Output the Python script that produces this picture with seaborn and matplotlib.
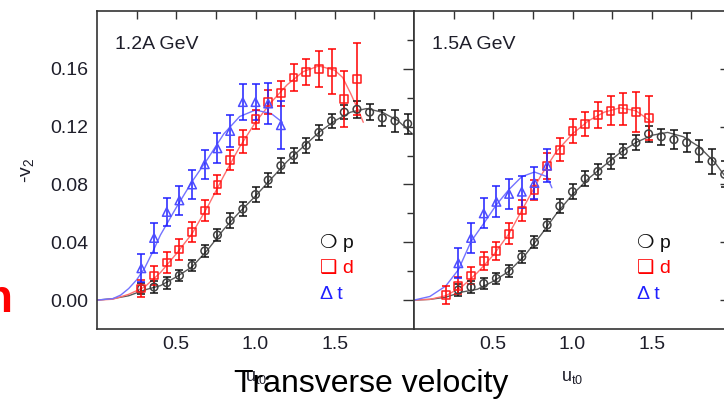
import matplotlib
matplotlib.use("Agg")
import matplotlib.pyplot as plt
from matplotlib.ticker import FormatStrFormatter
import seaborn as sns

sns.set_theme(style="white")
plt.rcParams['font.family'] = ['Liberation Sans', 'DejaVu Sans']
plt.rcParams['mathtext.default'] = 'regular'

# ---------------- 1.2A GeV ----------------
p12_x = [0.28, 0.36, 0.44, 0.52, 0.60, 0.68, 0.76, 0.84, 0.92, 1.00, 1.08,
         1.16, 1.24, 1.32, 1.40, 1.48, 1.56, 1.64, 1.72, 1.80, 1.88, 1.96]
p12_y = [0.008, 0.009, 0.012, 0.017, 0.024, 0.034, 0.045, 0.055, 0.063, 0.073, 0.083,
         0.093, 0.100, 0.107, 0.116, 0.124, 0.130, 0.132, 0.130, 0.126, 0.124, 0.122]
p12_e = [0.004, 0.004, 0.004, 0.004, 0.004, 0.004, 0.004, 0.005, 0.005, 0.005, 0.005,
         0.005, 0.005, 0.005, 0.005, 0.005, 0.005, 0.006, 0.0055, 0.0055, 0.0075, 0.007]

d12_x = [0.28, 0.36, 0.44, 0.52, 0.60, 0.68, 0.76, 0.84, 0.92, 1.00, 1.08,
         1.16, 1.24, 1.32, 1.40, 1.48, 1.56, 1.64]
d12_y = [0.008, 0.017, 0.026, 0.035, 0.047, 0.062, 0.080, 0.097, 0.110, 0.125, 0.137,
         0.143, 0.154, 0.158, 0.160, 0.158, 0.139, 0.153]
d12_e = [0.006, 0.0064, 0.007, 0.0072, 0.007, 0.0073, 0.0066, 0.007, 0.0079, 0.0067, 0.0081,
         0.0086, 0.0092, 0.009, 0.0125, 0.0154, 0.0194, 0.025]

t12_x = [0.28, 0.36, 0.44, 0.52, 0.60, 0.68, 0.76, 0.84, 0.92, 1.00, 1.08, 1.16]
t12_y = [0.022, 0.043, 0.061, 0.069, 0.080, 0.094, 0.105, 0.117, 0.137, 0.137, 0.136, 0.121]
t12_e = [0.0096, 0.0102, 0.0099, 0.010, 0.0102, 0.0099, 0.0104, 0.0112, 0.0124, 0.0124, 0.0143, 0.0168]

# fit curves
pf12_x = [0, 0.1, 0.2, 0.3, 0.4, 0.5, 0.6, 0.7, 0.8, 0.9, 1.0, 1.1, 1.2, 1.3, 1.4, 1.5,
          1.6, 1.7, 1.8, 1.9, 2.0]
pf12_y = [0, 0.001, 0.003, 0.007, 0.010, 0.016, 0.023, 0.035, 0.049, 0.061, 0.072, 0.084,
          0.096, 0.106, 0.116, 0.124, 0.130, 0.1325, 0.130, 0.124, 0.114]
df12_x = [0, 0.1, 0.2, 0.3, 0.4, 0.5, 0.6, 0.7, 0.8, 0.9, 1.0, 1.1, 1.2, 1.3, 1.4, 1.5,
          1.55, 1.6, 1.65, 1.68]
df12_y = [0, 0.0006, 0.004, 0.009, 0.019, 0.032, 0.046, 0.065, 0.086, 0.106, 0.123, 0.137,
          0.149, 0.158, 0.162, 0.159, 0.154, 0.143, 0.131, 0.123]
tf12_x = [0, 0.1, 0.15, 0.2, 0.25, 0.3, 0.35, 0.4, 0.5, 0.6, 0.7, 0.8, 0.9, 1.0, 1.1, 1.17]
tf12_y = [0, 0.001, 0.0035, 0.008, 0.014, 0.022, 0.033, 0.045, 0.064, 0.082, 0.098, 0.115,
          0.127, 0.1315, 0.129, 0.123]

# ---------------- 1.5A GeV ----------------
p15_x = [0.28, 0.36, 0.44, 0.52, 0.60, 0.68, 0.76, 0.84, 0.92, 1.00, 1.08,
         1.16, 1.24, 1.32, 1.40, 1.48, 1.56, 1.64, 1.72, 1.80, 1.88, 1.96]
p15_y = [0.007, 0.009, 0.0115, 0.015, 0.020, 0.030, 0.040, 0.052, 0.065, 0.075, 0.084,
         0.089, 0.096, 0.103, 0.109, 0.115, 0.113, 0.111, 0.109, 0.103, 0.096, 0.087]
p15_e = [0.004, 0.004, 0.004, 0.004, 0.004, 0.004, 0.004, 0.004, 0.005, 0.005, 0.005,
         0.005, 0.005, 0.005, 0.0055, 0.0055, 0.0055, 0.0064, 0.0064, 0.0078, 0.0085, 0.009]

d15_x = [0.20, 0.28, 0.36, 0.44, 0.52, 0.60, 0.68, 0.76, 0.84, 0.92, 1.00,
         1.08, 1.16, 1.24, 1.32, 1.40, 1.48]
d15_y = [0.0035, 0.010, 0.017, 0.027, 0.034, 0.046, 0.062, 0.076, 0.093, 0.104, 0.117,
         0.122, 0.128, 0.131, 0.132, 0.130, 0.126]
d15_e = [0.006, 0.006, 0.006, 0.0065, 0.0065, 0.007, 0.007, 0.007, 0.009, 0.008, 0.0081,
         0.0084, 0.0088, 0.0099, 0.011, 0.014, 0.015]

t15_x = [0.28, 0.36, 0.44, 0.52, 0.60, 0.68, 0.76, 0.84]
t15_y = [0.0255, 0.043, 0.060, 0.068, 0.0735, 0.075, 0.081, 0.093]
t15_e = [0.0102, 0.0104, 0.0104, 0.0106, 0.0102, 0.011, 0.0114, 0.0116]

pf15_x = [0, 0.1, 0.2, 0.3, 0.4, 0.5, 0.6, 0.7, 0.8, 0.9, 1.0, 1.1, 1.2, 1.3, 1.4, 1.5,
          1.6, 1.7, 1.8, 1.9, 2.0]
pf15_y = [0, 0.0005, 0.002, 0.0055, 0.0075, 0.013, 0.020, 0.031, 0.045, 0.060, 0.073,
          0.084, 0.093, 0.102, 0.109, 0.114, 0.116, 0.113, 0.106, 0.095, 0.080]
df15_x = [0, 0.1, 0.2, 0.3, 0.4, 0.5, 0.6, 0.7, 0.8, 0.9, 1.0, 1.1, 1.2, 1.3, 1.4, 1.49]
df15_y = [0, 0.0005, 0.003, 0.009, 0.019, 0.031, 0.046, 0.066, 0.086, 0.103, 0.115, 0.124,
          0.130, 0.133, 0.131, 0.124]
tf15_x = [0, 0.1, 0.2, 0.28, 0.36, 0.44, 0.52, 0.6, 0.68, 0.76, 0.84, 0.87]
tf15_y = [0, 0.0025, 0.0097, 0.021, 0.0406, 0.053, 0.066, 0.0766, 0.0854, 0.0886, 0.0854, 0.0777]

panel_labels = ["1.2A GeV", "1.5A GeV"]
legend_labels = ["\u274d p", "\u2751 d", "\u0394 t"]
y_ticks = [0.00, 0.04, 0.08, 0.12, 0.16]
x_ticks = [0.5, 1.0, 1.5]

# ---------------- styles ----------------
C_BAR = {'p': '#111111', 'd': '#ff0000', 't': '#1f1fff'}
C_MK = {'p': '#404040', 'd': '#ff1a1a', 't': '#4d4dff'}
C_FIT = {'p': '#5a5a5a', 'd': '#ff7070', 't': '#7373ff'}
MARK = {'p': 'o', 'd': 's', 't': '^'}
MSIZE = {'p': 30, 'd': 32, 't': 38}
TXT = '#1e1e2a'

W, H = 724, 404
fig = plt.figure(figsize=(W / 100, H / 100), dpi=100)
ax_w = 317 / W
ax_h = 318 / H
ax1 = fig.add_axes([97 / W, (H - 329) / H, ax_w, ax_h])
ax2 = fig.add_axes([414 / W, (H - 329) / H, ax_w, ax_h])

panels = [
    (ax1, [('p', p12_x, p12_y, p12_e, pf12_x, pf12_y),
           ('d', d12_x, d12_y, d12_e, df12_x, df12_y),
           ('t', t12_x, t12_y, t12_e, tf12_x, tf12_y)]),
    (ax2, [('p', p15_x, p15_y, p15_e, pf15_x, pf15_y),
           ('d', d15_x, d15_y, d15_e, df15_x, df15_y),
           ('t', t15_x, t15_y, t15_e, tf15_x, tf15_y)]),
]

for i, (ax, series) in enumerate(panels):
    for key, xs, ys, es, fx, fy in series:
        sns.lineplot(x=fx, y=fy, ax=ax, color=C_FIT[key], lw=1.0, sort=False,
                     estimator=None, zorder=2)
        ax.errorbar(xs, ys, yerr=es, fmt='none', ecolor=C_BAR[key], elinewidth=1.1,
                    capsize=3.2, capthick=1.1, zorder=3)
        sns.scatterplot(x=xs, y=ys, ax=ax, marker=MARK[key], s=MSIZE[key],
                        facecolor='none', edgecolor=C_MK[key], linewidth=1.1, zorder=4)
    ax.set_xlim(0, 2.0)
    ax.set_ylim(-0.02, 0.20)
    ax.set_xticks(x_ticks)
    ax.set_xticks([0.25, 0.75, 1.25, 1.75], minor=True)
    ax.set_yticks(y_ticks)
    ax.set_yticks([0.02, 0.06, 0.10, 0.14, 0.18], minor=True)
    ax.xaxis.set_major_formatter(FormatStrFormatter('%.1f'))
    ax.yaxis.set_major_formatter(FormatStrFormatter('%.2f'))
    ax.tick_params(which='both', direction='in', top=True, right=True,
                   color='#333333', width=1.0, labelsize=14, labelcolor=TXT)
    ax.tick_params(axis='x', which='both', length=5.5, pad=5)
    ax.tick_params(axis='y', which='major', length=8, pad=6.5)
    ax.tick_params(axis='y', which='minor', length=4.7)
    for s in ax.spines.values():
        s.set_color('#333333')
        s.set_linewidth(1.2)
    ax.set_xlabel('')
    ax.set_ylabel('')
    ax.text(0.057, 0.896, panel_labels[i], transform=ax.transAxes, fontsize=14,
            color=TXT, ha='left', va='center')
    for lab, yy, c in zip(legend_labels, [0.270, 0.189, 0.110],
                          ['#111111', '#ff0000', '#2020ff']):
        ax.text(0.703, yy, lab, transform=ax.transAxes, fontsize=14, color=c,
                ha='left', va='center')

ax2.tick_params(labelleft=False)


def fx(px):
    return px / W


def fy(py):
    return 1 - py / H


# axis labels
fig.text(fx(27), fy(170), '-v$_2$', rotation=90, fontsize=14, color=TXT,
         ha='center', va='center')
for cx in (256, 572.5):
    fig.text(fx(cx), fy(377), 'u$_{t0}$', fontsize=13, color=TXT, ha='center', va='center')
    fig.text(fx(cx), fy(-6), 'u$_{t0}$', fontsize=13, color=TXT, ha='center', va='center')

fig.text(fx(371), fy(392), 'Transverse velocity', fontsize=23, color='black',
         ha='center', va='baseline')
fig.text(fx(13), fy(312), 'n', fontsize=33, fontweight='bold', color='#ff0000',
         ha='right', va='baseline')

fig.savefig('out.png', dpi=100)
